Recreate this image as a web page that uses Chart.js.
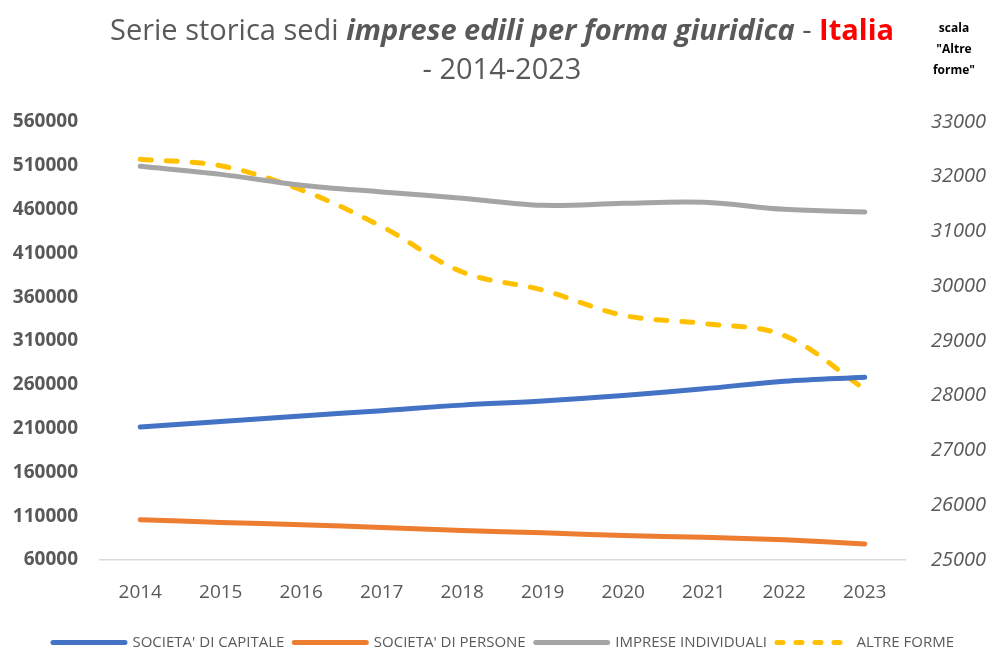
<!DOCTYPE html>
<html>
<head>
<meta charset="utf-8">
<script src="https://cdn.jsdelivr.net/npm/chart.js@4/dist/chart.umd.min.js"></script>
<style>
  html, body { margin: 0; padding: 0; background: #fff; }
  #wrap { position: relative; width: 989px; height: 650px; }
  #title {
    position: absolute; left: 12px; top: 9px; width: 980px;
    text-align: center; font-family: "Open Sans", sans-serif;
    font-size: 29px; line-height: 39px; color: #595959;
  }
  #title .bi { font-weight: bold; font-style: italic; }
  #title .red { font-weight: bold; color: #ff0000; }
  #scala {
    position: absolute; left: 918px; top: 17px; width: 72px;
    text-align: center; font-family: "Open Sans", sans-serif;
    font-size: 12px; font-weight: bold; line-height: 21px; color: #000;
  }
</style>
</head>
<body>
<div id="wrap">
  <canvas id="myChart" width="989" height="650"></canvas>
  <div id="title">Serie storica sedi <span class="bi">imprese edili per forma giuridica</span> - <span class="red">Italia</span><br>- 2014-2023</div>
  <div id="scala">scala<br>"Altre<br>forme"</div>
</div>
<script>
// anni
const years = ['2014','2015','2016','2017','2018','2019','2020','2021','2022','2023'];

// valori
const capitale = [211700, 218200, 224400, 230500, 236800, 241400, 247700, 255400, 264100, 268700];
const persone = [106000, 102900, 100200, 97100, 93700, 91000, 87900, 86000, 83000, 78400];
const individuali = [509400, 500200, 487900, 480200, 473000, 464900, 467200, 468400, 460300, 457200];
const altreForme = [32320, 32200, 31760, 31090, 30260, 29930, 29470, 29320, 29100, 28120];

// tick degli assi
const leftTicks = [60000, 110000, 160000, 210000, 260000, 310000, 360000, 410000, 460000, 510000, 560000];
const rightTicks = [25000, 26000, 27000, 28000, 29000, 30000, 31000, 32000, 33000];

// legenda: riporta il tratteggio della serie
const legendLabels = chart => {
  const items = Chart.defaults.plugins.legend.labels.generateLabels(chart);
  items.forEach(it => {
    const ds = chart.data.datasets[it.datasetIndex];
    it.lineDash = ds.borderDash ? [6, 13] : [];
    it.lineCap = 'round';
    it.lineWidth = 5;
  });
  return items;
};

// sposta un po' la legenda a destra come nell'originale
const legendShift = {
  id: 'legendShift',
  afterLayout(chart) {
    if (chart.legend) {
      chart.legend.left += 9;
      chart.legend.right += 9;
    }
  }
};

const ctx = document.getElementById('myChart');
new Chart(ctx, {
  type: 'line',
  data: {
    labels: years,
    datasets: [
      {
        label: "SOCIETA' DI CAPITALE",
        data: capitale,
        borderColor: '#4472C4',
        backgroundColor: '#4472C4',
        borderWidth: 5,
        yAxisID: 'y'
      },
      {
        label: "SOCIETA' DI PERSONE",
        data: persone,
        borderColor: '#ED7D31',
        backgroundColor: '#ED7D31',
        borderWidth: 5,
        yAxisID: 'y'
      },
      {
        label: 'IMPRESE INDIVIDUALI',
        data: individuali,
        borderColor: '#A5A5A5',
        backgroundColor: '#A5A5A5',
        borderWidth: 5,
        yAxisID: 'y'
      },
      {
        label: 'ALTRE FORME',
        data: altreForme,
        borderColor: '#FFC000',
        backgroundColor: '#FFC000',
        borderWidth: 5,
        borderDash: [11, 15],
        yAxisID: 'y1'
      }
    ]
  },
  plugins: [legendShift],
  options: {
    responsive: false,
    animation: false,
    layout: { padding: { top: 122, left: 0, right: 0, bottom: -10 } },
    elements: {
      point: { radius: 0 },
      line: { tension: 0.35, borderCapStyle: 'round', borderJoinStyle: 'round' }
    },
    plugins: {
      title: { display: false },
      tooltip: { enabled: false },
      legend: {
        position: 'bottom',
        labels: {
          usePointStyle: true,
          pointStyle: 'line',
          pointStyleWidth: 72,
          padding: 10,
          color: '#595959',
          font: { family: 'Open Sans', size: 15 },
          generateLabels: legendLabels
        }
      }
    },
    scales: {
      x: {
        offset: true,
        grid: { display: false, drawTicks: false },
        border: { display: true, color: '#D9D9D9', width: 1.5 },
        ticks: { color: '#595959', padding: 21, font: { family: 'Open Sans', size: 19 } },
        afterFit: s => { s.height = 65; }
      },
      y: {
        position: 'left',
        min: 60000,
        max: 560000,
        grid: { display: false, drawTicks: false },
        border: { display: false },
        afterBuildTicks: s => { s.ticks = leftTicks.map(v => ({ value: v })); },
        ticks: {
          color: '#595959', padding: 22,
          font: { family: 'Open Sans', size: 19, weight: 'bold' },
          callback: v => String(v)
        },
        afterFit: s => { s.width = 100; }
      },
      y1: {
        position: 'right',
        min: 25000,
        max: 33000,
        grid: { display: false, drawTicks: false },
        border: { display: false },
        afterBuildTicks: s => { s.ticks = rightTicks.map(v => ({ value: v })); },
        ticks: {
          color: '#595959', padding: 26,
          font: { family: 'Open Sans', size: 20, style: 'italic' },
          callback: v => String(v)
        },
        afterFit: s => { s.width = 84; }
      }
    }
  }
});
</script>
</body>
</html>
